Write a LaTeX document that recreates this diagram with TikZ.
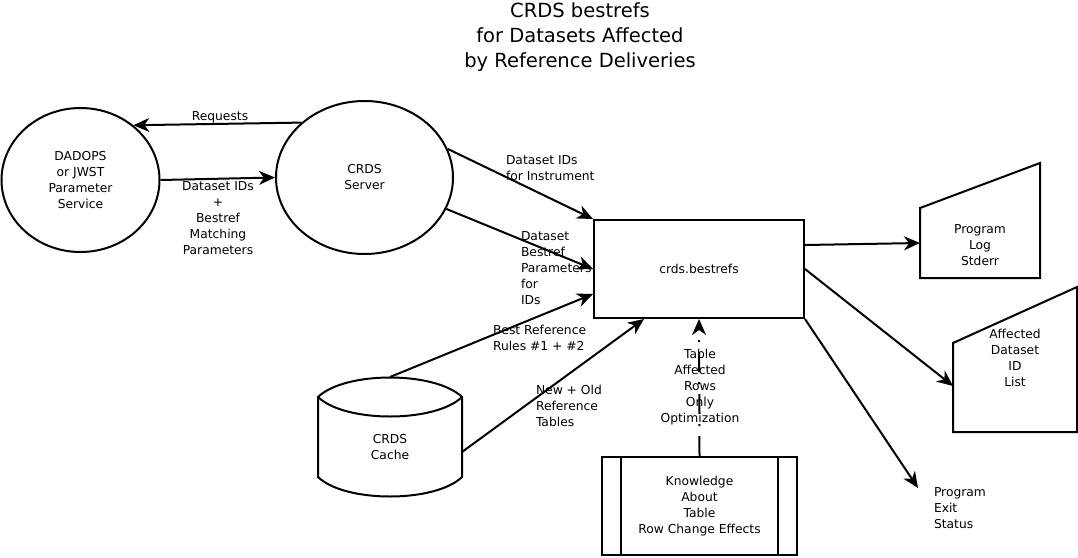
\documentclass[tikz,border=0pt]{standalone}
\usepackage{fontspec}
\setmainfont{DejaVu Sans}
\usetikzlibrary{shapes.geometric,arrows.meta}

\begin{document}
\begin{tikzpicture}[x=1pt,y=-1pt,line width=2pt,
        >={Stealth[length=16pt,width=14pt,inset=5pt]},
        every node/.style={font=\fontsize{12.3}{16}\selectfont},
        txt/.style={align=center,inner sep=0pt},
        ltxt/.style={align=left,inner sep=0pt,anchor=west}]
    \useasboundingbox (0,0) rectangle (1078,557);

    \node[txt,font=\fontsize{19.5}{25}\selectfont] (title) at (580,37) {CRDS bestrefs\\for Datasets Affected\\by Reference Deliveries};

    \node[shape=ellipse,draw=black,minimum width=158pt,minimum height=144pt,align=center] (dadops) at (80.5,180) {DADOPS\\or JWST\\Parameter\\Service};
    \node[shape=ellipse,draw=black,minimum width=177pt,minimum height=153pt,align=center] (server) at (364.5,177.5) {CRDS\\Server};
    \node[shape=rectangle,draw=black,minimum width=210pt,minimum height=98pt] (bestrefs) at (699,269) {crds.bestrefs};
    \node[shape=rectangle,draw=black,minimum width=195pt,minimum height=98pt,align=center] (knowledge) at (699.5,506) {Knowledge\\About\\Table\\Row Change Effects};
    \draw ([xshift=20pt]knowledge.north west) -- ([xshift=20pt]knowledge.south west);
    \draw ([xshift=-20pt]knowledge.north east) -- ([xshift=-20pt]knowledge.south east);

    % cache cylinder
    \draw (318,397) .. controls (345,371) and (435,371) .. (462,397) -- (462,477)
        .. controls (435,503) and (345,503) .. (318,477) -- cycle;
    \draw (318,397) .. controls (345,423) and (435,423) .. (462,397);
    \node[txt] (cache) at (390,447) {CRDS\\Cache};
    \coordinate (cachetop) at (390,377);
    \coordinate (cacheright) at (462,452);

    % manual inputs
    \draw (920,208) -- (1040,163) -- (1040,278) -- (920,278) -- cycle;
    \node[txt] (log) at (980,245) {Program\\Log\\Stderr};
    \coordinate (login) at (920,243);
    \draw (953,343) -- (1077,287) -- (1077,432) -- (953,432) -- cycle;
    \node[txt] (affected) at (1015,358) {Affected\\Dataset\\ID\\List};
    \coordinate (affin) at (953,386);

    \node[ltxt] (exit) at (933,508) {Program\\Exit\\Status};
    \coordinate (exitin) at (918,488);

    % labels
    \node[txt] (lreq) at (220,117) {Requests};
    \node[txt] (lmatch) at (218,218) {Dataset IDs\\+\\Bestref\\Matching\\Parameters};
    \node[ltxt] (lids) at (505,168) {Dataset IDs\\for Instrument};
    \node[ltxt] (lparams) at (520,268) {Dataset\\Bestref\\Parameters\\for\\IDs};
    \node[ltxt] (lrules) at (492,338) {Best Reference\\Rules \#1 + \#2};
    \node[ltxt] (ltables) at (535,406) {New + Old\\Reference\\Tables};
    \node[txt] (lopt) at (700,387) {Table\\Affected\\Rows\\Only\\Optimization};

    \path [->] (server.139) edge (dadops.46);
    \path [->] (dadops.east) edge (server.west);
    \path [->] (server.19) edge (bestrefs.north west);
    \path [->] (server.-21) edge (bestrefs.west);
    \path [->] (cachetop) edge ([yshift=-25pt]bestrefs.west);
    \path [->] (cacheright) edge ([xshift=51pt]bestrefs.south west);
    \path [->,dash pattern=on 20pt off 10pt on 2pt off 10pt] (knowledge.north) edge (bestrefs.south);
    \path [->] ([yshift=24pt]bestrefs.east) edge (login);
    \path [->] (bestrefs.east) edge (affin);
    \path [->] (bestrefs.south east) edge (exitin);
\end{tikzpicture}
\end{document}
